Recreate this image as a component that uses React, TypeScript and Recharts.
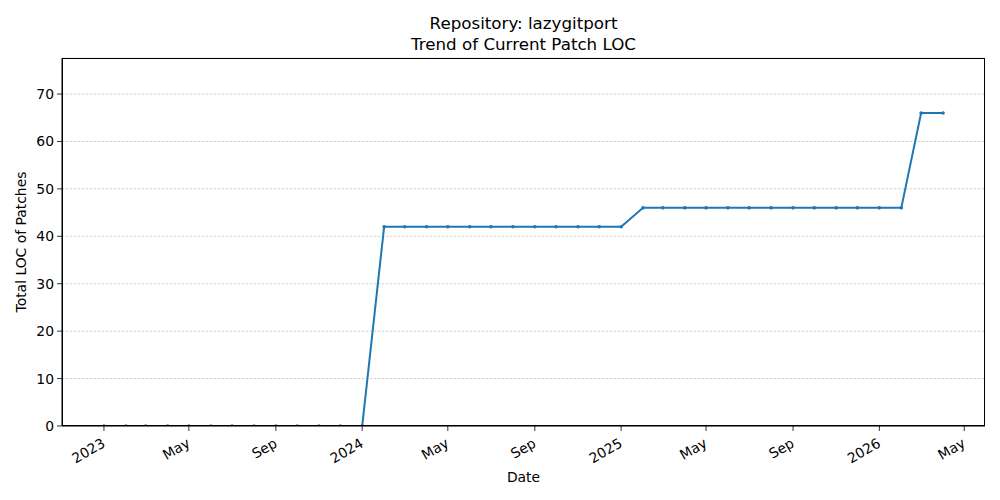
import { CartesianGrid, Line, LineChart, XAxis, YAxis } from "recharts";

const FONT = "DejaVu Sans, sans-serif";
const BLUE = "#1f77b4";

// one point per month, first day of the month
const months = [
  "2023-01", "2023-02", "2023-03", "2023-04", "2023-05", "2023-06", "2023-07", "2023-08",
  "2023-09", "2023-10", "2023-11", "2023-12", "2024-01", "2024-02", "2024-03", "2024-04",
  "2024-05", "2024-06", "2024-07", "2024-08", "2024-09", "2024-10", "2024-11", "2024-12",
  "2025-01", "2025-02", "2025-03", "2025-04", "2025-05", "2025-06", "2025-07", "2025-08",
  "2025-09", "2025-10", "2025-11", "2025-12", "2026-01", "2026-02", "2026-03", "2026-04",
];

const loc = [
  0, 0, 0, 0, 0, 0, 0, 0, 0, 0, 0, 0, 0, 42, 42, 42,
  42, 42, 42, 42, 42, 42, 42, 42, 42, 46, 46, 46, 46, 46, 46, 46,
  46, 46, 46, 46, 46, 46, 66, 66,
];

const xTickDates = [
  "2023-01", "2023-05", "2023-09", "2024-01", "2024-05", "2024-09",
  "2025-01", "2025-05", "2025-09", "2026-01", "2026-05",
];
const xTickLabels = ["2023", "May", "Sep", "2024", "May", "Sep", "2025", "May", "Sep", "2026", "May"];

const yTicks = [0, 10, 20, 30, 40, 50, 60, 70];

const ts = (m: string) => Date.UTC(Number(m.slice(0, 4)), Number(m.slice(5, 7)) - 1, 1);

const data = months.map((m, i) => ({ t: ts(m), loc: loc[i] }));
const xTicks = xTickDates.map(ts);
const tMin = data[0].t;
const tMax = data[data.length - 1].t;
const pad = (tMax - tMin) * 0.05;

function DateTick({ x, y, payload }: any) {
  const i = xTicks.indexOf(payload.value);
  const ax = x - 3;
  const ay = y + 4;
  return (
    <text
      x={ax}
      y={ay}
      dy={10.4}
      textAnchor="end"
      transform={`rotate(-30, ${ax}, ${ay})`}
      fontFamily={FONT}
      fontSize={13.9}
      fill="#000"
    >
      {xTickLabels[i]}
    </text>
  );
}

export default function App() {
  return (
    <div style={{ position: "absolute", left: 0, top: 0, width: 1000, height: 500, background: "#fff", fontFamily: FONT }}>
      <div style={{ position: "absolute", left: 0, width: 1047, top: 13, textAlign: "center", fontSize: 16.7, lineHeight: "21px" }}>
        Repository: lazygitport
        <br />
        Trend of Current Patch LOC
      </div>
      <div style={{ position: "absolute", left: 0, width: 1047, top: 469, textAlign: "center", fontSize: 13.9 }}>
        Date
      </div>
      <div
        style={{
          position: "absolute",
          left: 21,
          top: 242,
          transform: "translate(-50%, -50%) rotate(-90deg)",
          whiteSpace: "nowrap",
          fontSize: 13.9,
        }}
      >
        Total LOC of Patches
      </div>
      <LineChart width={1000} height={500} data={data} margin={{ top: 58, right: 15, left: 0, bottom: 0 }}>
        <CartesianGrid vertical={false} stroke="#b0b0b0" strokeWidth={0.6} strokeDasharray="2.5 1.5" />
        <XAxis
          dataKey="t"
          type="number"
          domain={[tMin - pad, tMax + pad]}
          ticks={xTicks}
          tick={<DateTick />}
          tickSize={5}
          tickLine={{ stroke: "#000", strokeWidth: 0.8 }}
          axisLine={{ stroke: "#000", strokeWidth: 1 }}
          height={74}
          interval={0}
          allowDataOverflow
        />
        <YAxis
          domain={[0, 77.6]}
          ticks={yTicks}
          tickSize={5}
          tickMargin={3}
          width={62}
          interval={0}
          allowDataOverflow
          tick={{ fontFamily: FONT, fontSize: 13.9, fill: "#000" }}
          tickLine={{ stroke: "#000", strokeWidth: 0.8 }}
          axisLine={{ stroke: "#000", strokeWidth: 1 }}
        />
        <Line
          dataKey="loc"
          type="linear"
          stroke={BLUE}
          strokeWidth={2}
          dot={{ r: 1.8, fill: BLUE, stroke: BLUE, strokeWidth: 0 }}
          isAnimationActive={false}
        />
      </LineChart>
      <div
        style={{
          position: "absolute",
          left: 62,
          top: 58,
          width: 923,
          height: 368,
          boxSizing: "border-box",
          border: "1px solid #000",
          pointerEvents: "none",
        }}
      />
    </div>
  );
}
